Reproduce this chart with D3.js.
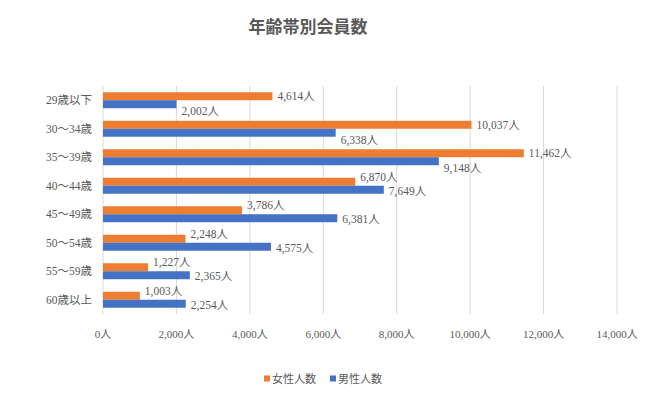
<!DOCTYPE html>
<html>
<head>
<meta charset="utf-8">
<script src="https://cdn.jsdelivr.net/npm/d3@7"></script>
<style>
  body { margin: 0; background: #fff; }
  text { font-family: "Liberation Serif", "Noto Sans CJK JP", serif; fill: #595959; }
</style>
</head>
<body>
<div id="chart"></div>
<script>
const categories = ["29歳以下", "30～34歳", "35～39歳", "40～44歳", "45～49歳", "50～54歳", "55～59歳", "60歳以上"];
const femaleCounts = [4614, 10037, 11462, 6870, 3786, 2248, 1227, 1003];
const maleCounts = [2002, 6338, 9148, 7649, 6381, 4575, 2365, 2254];
const xTicks = [0, 2000, 4000, 6000, 8000, 10000, 12000, 14000];
const seriesNames = ["女性人数", "男性人数"];

const width = 650, height = 396;
const margin = { top: 86, right: 33, bottom: 82, left: 103 };
const orange = "#ED7D31", blue = "#4472C4";

const svg = d3.select("#chart")
    .append("svg")
    .attr("width", width)
    .attr("height", height);

// title
svg.append("text")
    .attr("x", 308)
    .attr("y", 33)
    .attr("text-anchor", "middle")
    .style("font-family", "'Noto Sans CJK JP', sans-serif")
    .style("font-weight", "bold")
    .style("font-size", "17px")
    .text("年齢帯別会員数");

const x = d3.scaleLinear()
    .domain([0, 14000])
    .range([margin.left, width - margin.right]);

const y = d3.scaleBand()
    .domain(categories)
    .range([margin.top, height - margin.bottom])
    .paddingInner(0.44)
    .paddingOuter(0.22);

const sub = d3.scaleBand()
    .domain(seriesNames)
    .range([0, y.bandwidth()]);

// gridlines
svg.selectAll(".grid")
    .data(xTicks)
    .enter()
    .append("line")
    .attr("x1", d => x(d))
    .attr("x2", d => x(d))
    .attr("y1", margin.top)
    .attr("y2", height - margin.bottom)
    .attr("stroke", "#d9d9d9")
    .attr("stroke-width", 1);

// x axis labels
svg.selectAll(".xlabel")
    .data(xTicks)
    .enter()
    .append("text")
    .attr("x", d => x(d))
    .attr("y", 338)
    .attr("text-anchor", "middle")
    .style("font-size", "11px")
    .text(d => d3.format(",")(d) + "人");

// category labels
svg.selectAll(".ylabel")
    .data(categories)
    .enter()
    .append("text")
    .attr("x", 92)
    .attr("y", d => y(d) + y.bandwidth() / 2 + 4)
    .attr("text-anchor", "end")
    .style("font-size", "11.5px")
    .text(d => d);

const rows = categories.map((c, i) => ({ cat: c, f: femaleCounts[i], m: maleCounts[i] }));

// female bars
svg.selectAll(".fbar")
    .data(rows)
    .enter()
    .append("rect")
    .attr("x", x(0))
    .attr("y", d => y(d.cat) + sub(seriesNames[0]))
    .attr("width", d => x(d.f) - x(0))
    .attr("height", sub.bandwidth())
    .attr("fill", orange);

// male bars
svg.selectAll(".mbar")
    .data(rows)
    .enter()
    .append("rect")
    .attr("x", x(0))
    .attr("y", d => y(d.cat) + sub(seriesNames[1]))
    .attr("width", d => x(d.m) - x(0))
    .attr("height", sub.bandwidth())
    .attr("fill", blue);

// value labels - shorter bar's label nudged away from the other
svg.selectAll(".flabel")
    .data(rows)
    .enter()
    .append("text")
    .attr("x", d => x(d.f) + 5)
    .attr("y", d => y(d.cat) + sub(seriesNames[0]) + sub.bandwidth() / 2 + 4 + (d.m > d.f ? -5 : 0))
    .style("font-size", "11.5px")
    .text(d => d3.format(",")(d.f) + "人");

svg.selectAll(".mlabel")
    .data(rows)
    .enter()
    .append("text")
    .attr("x", d => x(d.m) + 5)
    .attr("y", d => y(d.cat) + sub(seriesNames[1]) + sub.bandwidth() / 2 + 4 + (d.f > d.m ? 7 : 1))
    .style("font-size", "11.5px")
    .text(d => d3.format(",")(d.m) + "人");

// legend
const legend = svg.append("g").attr("transform", "translate(264,379)");
seriesNames.forEach((name, i) => {
    const g = legend.append("g").attr("transform", `translate(${i * 66},0)`);
    g.append("rect")
        .attr("x", 0)
        .attr("y", -3.5)
        .attr("width", 6)
        .attr("height", 6)
        .attr("fill", i === 0 ? orange : blue);
    g.append("text")
        .attr("x", 8)
        .attr("y", 4)
        .style("font-size", "11px")
        .text(name);
});
</script>
</body>
</html>
